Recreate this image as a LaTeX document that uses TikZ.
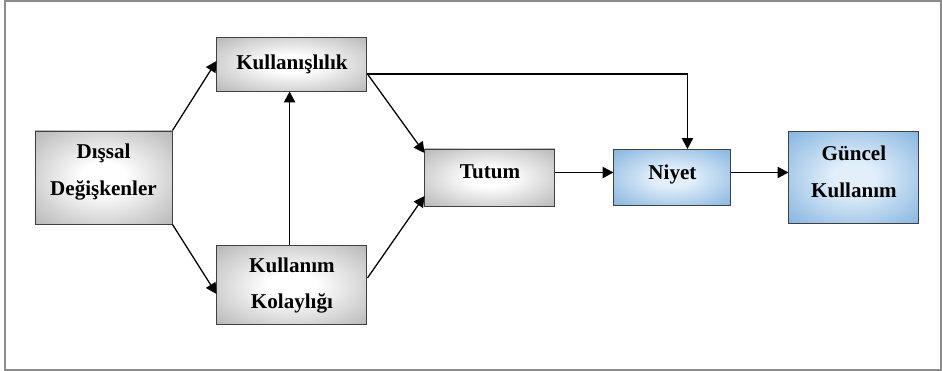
\documentclass[tikz,border=0pt]{standalone}
\usepackage{fontspec}
\setmainfont{Liberation Serif}
\usetikzlibrary{arrows.meta, positioning}

\definecolor{boxgrey}{RGB}{146,146,146}
\definecolor{boxblue}{RGB}{86,150,211}
\definecolor{lightblue}{RGB}{226,239,250}
\definecolor{framegrey}{RGB}{140,140,140}

\pgfdeclareradialshading{greyshade}{\pgfpoint{0bp}{0bp}}{color(0bp)=(white); color(8bp)=(white); color(50bp)=(boxgrey)}
\pgfdeclareradialshading{blueshade}{\pgfpoint{0bp}{0bp}}{color(0bp)=(lightblue); color(8bp)=(lightblue); color(50bp)=(boxblue)}

\begin{document}
\begin{tikzpicture}[
  node distance=1.45cm,
  box/.style={rectangle, draw=black!75, line width=0.7pt, inner sep=0pt, align=center, font=\fontsize{15}{26}\selectfont\bfseries},
  greybox/.style={box, shade, shading=greyshade},
  bluebox/.style={box, shade, shading=blueshade},
  arrow/.style={-{Triangle[length=0.27cm, width=0.28cm]}, line width=0.9pt},
]

\useasboundingbox (-2.5875,-4.8375) rectangle (20.9625,4.4375);
\draw[framegrey, line width=1.4pt] (-2.4625,-4.8125) rectangle (20.9375,4.4125);

\node[greybox, minimum width=3.425cm, minimum height=2.325cm, text depth=11.5pt] (dis) {Dışsal\\Değişkenler};
\node[greybox, minimum width=3.75cm, minimum height=1.35cm, above right=0.975cm and 1.1cm of dis] (kul) {Kullanışlılık};
\node[greybox, minimum width=3.75cm, minimum height=1.975cm, below right=0.525cm and 1.1cm of dis] (kol) {Kullanım\\Kolaylığı};
\node[greybox, minimum width=3.25cm, minimum height=1.425cm, text depth=8pt, right=6.3cm of dis] (tut) {Tutum};
\node[bluebox, minimum width=2.925cm, minimum height=1.4cm, text depth=8pt, right=of tut] (niy) {Niyet};
\node[bluebox, minimum width=3.25cm, minimum height=2.3cm, text depth=8.5pt, right=1.425cm of niy] (gun) {Güncel\\Kullanım};

% Connections
\draw[arrow] (dis.north east) -- ([yshift=0.075cm]kul.west);
\draw[arrow] (dis.south east) -- ([yshift=-0.2125cm]kol.west);
\draw[arrow] ([xshift=-0.06cm]kol.north) -- ([xshift=-0.06cm]kul.south);
\draw[arrow] ([yshift=-0.25cm]kul.east) -- ([yshift=0.6125cm]tut.west);
\draw[arrow] ([yshift=0.1875cm]kol.east) -- ([yshift=-0.4625cm]tut.west);
\draw[arrow] ([yshift=-0.25cm]kul.east) -| ([xshift=0.375cm]niy.north);
\draw[arrow] ([yshift=0.125cm]tut.east) -- ([yshift=0.125cm]niy.west);
\draw[arrow] ([yshift=0.125cm]niy.east) -- ([yshift=0.125cm]gun.west);

\end{tikzpicture}
\end{document}
